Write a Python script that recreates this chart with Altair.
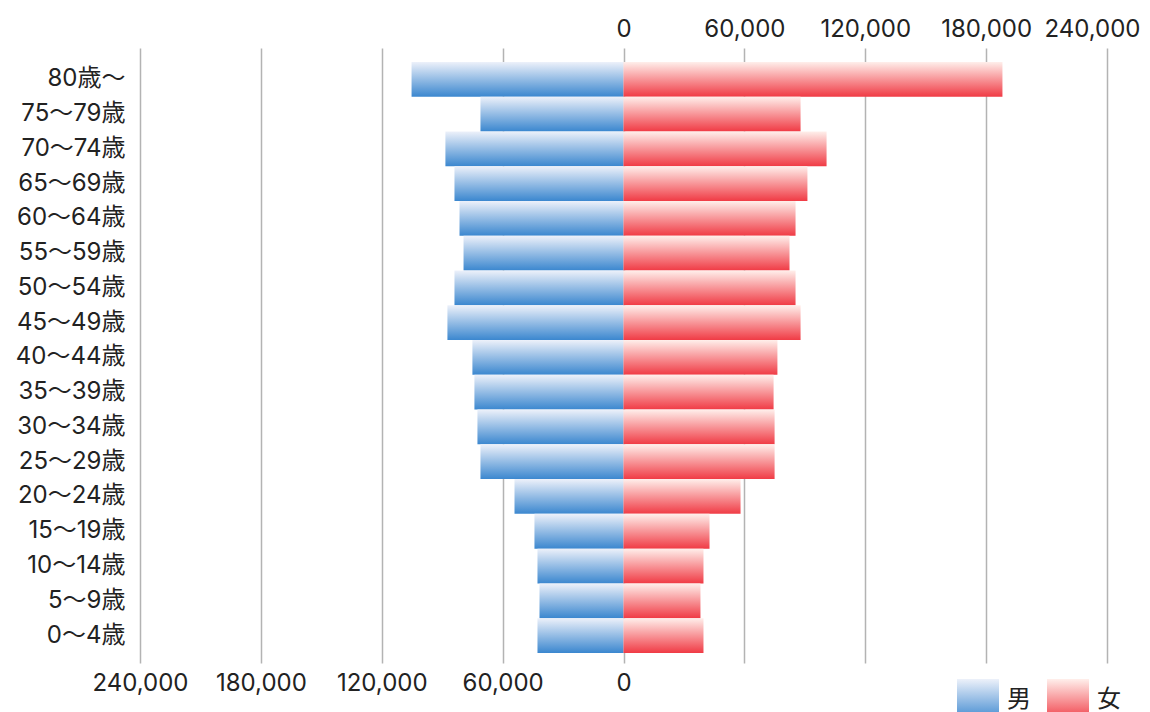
import altair as alt
import pandas as pd

# ---- data ----
ages = ["80歳～", "75〜79歳", "70〜74歳", "65〜69歳", "60〜64歳", "55〜59歳",
        "50〜54歳", "45〜49歳", "40〜44歳", "35〜39歳", "30〜34歳", "25〜29歳",
        "20〜24歳", "15〜19歳", "10〜14歳", "5〜9歳", "0〜4歳"]
male = [105200, 71000, 88400, 83900, 81400, 79400, 83900, 87400, 75000,
        74000, 72500, 71000, 54100, 44200, 42700, 41700, 42700]
female = [188100, 87900, 100800, 91300, 85400, 82400, 85400, 87900, 76400,
          74500, 75000, 75000, 58100, 42700, 39700, 38200, 39700]
sexes = ["男", "女"]
tick_values = [-240000, -180000, -120000, -60000, 0, 60000, 120000, 180000, 240000]

FONT = "Inter, 'Noto Sans CJK JP'"
TEXT = "#222222"
BLUE_TOP, BLUE_BOT = "#edf1fa", "#3b87cf"
RED_TOP, RED_BOT = "#ffefeb", "#f03b45"

male_df = pd.DataFrame({"age": ages, "value": [-v for v in male], "sex": "男"})
female_df = pd.DataFrame({"age": ages, "value": female, "sex": "女"})
legend_df = pd.DataFrame({"sex": sexes})


def grad(top, bot):
    return alt.LinearGradient(
        gradient="linear", x1=0, y1=0, x2=0, y2=1,
        stops=[alt.GradientStop(color=top, offset=0), alt.GradientStop(color=bot, offset=1)],
    )


def grad_expr(top, bot):
    return ("{gradient: 'linear', x1: 0, y1: 0, x2: 0, y2: 1, stops: ["
            f"{{offset: 0, color: '{top}'}}, {{offset: 1, color: '{bot}'}}]}}")


xscale = alt.Scale(domain=[-240000, 240000], nice=False)
yenc = alt.Y(
    "age:N", sort=ages, title=None,
    scale=alt.Scale(paddingInner=0, paddingOuter=0.345, align=0.58),
    axis=alt.Axis(ticks=False, domain=False, grid=False, labelFontSize=24,
                  labelPadding=15, labelColor=TEXT, labelFont=FONT),
)

male_layer = alt.Chart(male_df).mark_bar(color=grad(BLUE_TOP, BLUE_BOT)).encode(
    x=alt.X("value:Q", scale=xscale, title=None,
            axis=alt.Axis(orient="bottom", values=tick_values,
                          labelExpr="datum.value <= 0 ? format(abs(datum.value), ',') : ''",
                          grid=True, gridColor="#b3b3b3", gridWidth=1.5,
                          ticks=False, domain=False, labelFontSize=24, labelFont=FONT,
                          labelColor=TEXT, labelPadding=8, labelFlush=False,
                          labelOverlap=False)),
    y=yenc,
)

female_layer = alt.Chart(female_df).mark_bar(color=grad(RED_TOP, RED_BOT)).encode(
    x=alt.X("value:Q", scale=xscale, title=None,
            axis=alt.Axis(orient="top", values=tick_values,
                          labelExpr="datum.value >= 0 ? format(datum.value, ',') : ''",
                          grid=False, ticks=False, domain=False,
                          labelFontSize=24, labelFont=FONT, labelColor=TEXT,
                          labelPadding=7, labelFlush=False, labelOverlap=False,
                          labelOffset={"condition": {"test": "datum.value === 240000", "value": -15}, "value": 0})),
    y=yenc,
)

legend_layer = alt.Chart(legend_df).transform_filter("false").mark_square().encode(
    color=alt.Color(
        "sex:N", sort=sexes,
        scale=alt.Scale(domain=sexes, range=[{"expr": grad_expr(BLUE_TOP, BLUE_BOT)},
                                             {"expr": grad_expr(RED_TOP, RED_BOT)}]),
        legend=alt.Legend(
            title=None, orient="none", legendX=817, legendY=631,
            direction="horizontal", symbolType="square", symbolSize=1764,
            symbolOpacity=1, symbolStrokeWidth=0, labelFontSize=24,
            labelFont=FONT, labelColor=TEXT, labelOffset=8, columnPadding=16,
        ),
    ),
)

chart = (
    alt.layer(male_layer, female_layer, legend_layer)
    .resolve_scale(x="shared")
    .resolve_axis(x="independent")
    .properties(width=967, height=615,
                padding={"left": 132, "top": 40, "right": 35, "bottom": 49},
                autosize=alt.AutoSizeParams(type="none"),
                view=alt.ViewBackground(stroke="transparent", strokeWidth=0))
    .configure_view(stroke="transparent", strokeWidth=0)
    .configure_axis(domain=False, ticks=False)
    .configure(font=FONT, background="white")
)

chart.save("out.html", embed_options={"renderer": "svg", "actions": False})
